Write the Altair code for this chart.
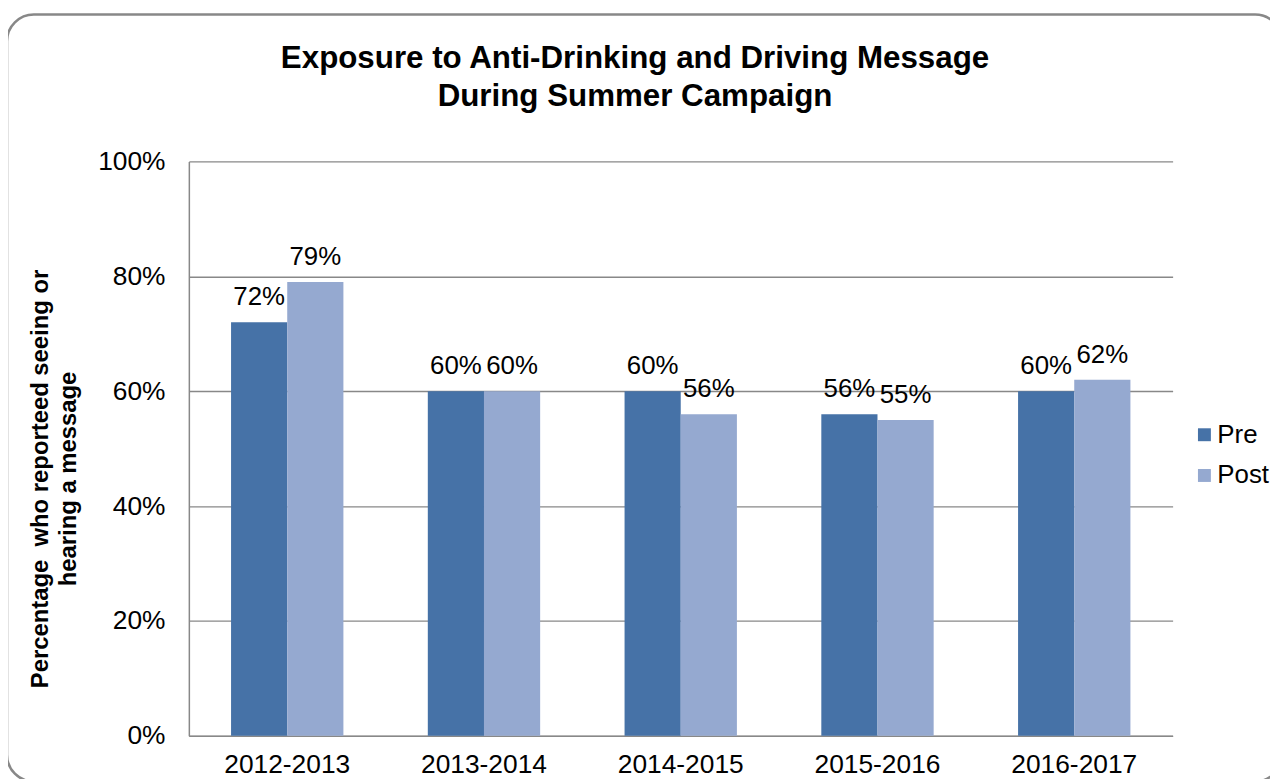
import altair as alt
import pandas as pd

years = ["2012-2013", "2013-2014", "2014-2015", "2015-2016", "2016-2017"]
pre_values = [72, 60, 60, 56, 60]
post_values = [79, 60, 56, 55, 62]
series = ["Pre", "Post"]
colors = ["#4672A7", "#95A9D0"]
y_ticks = [0, 0.2, 0.4, 0.6, 0.8, 1.0]
title_lines = ["Exposure to Anti-Drinking and Driving Message", "During Summer Campaign"]
y_title = ["Percentage \u00a0who reporteed seeing or", "hearing a message"]

rows = []
for i, yr in enumerate(years):
    rows.append({"year": yr, "series": "Pre", "value": pre_values[i] / 100})
    rows.append({"year": yr, "series": "Post", "value": post_values[i] / 100})
df = pd.DataFrame(rows)

FONT = "Liberation Sans"

x_enc = alt.X(
    "year:N",
    sort=years,
    scale=alt.Scale(paddingInner=0.429, paddingOuter=0.2145),
    axis=alt.Axis(
        title=None, labelAngle=0, labelFontSize=26.5, labelPadding=16,
        ticks=False, tickSize=0, domainColor="#888888", domainWidth=1.5,
        grid=False, labelColor="#000000", labelFont=FONT,
    ),
)
xoff_enc = alt.XOffset("series:N", sort=series, scale=alt.Scale(paddingInner=0, paddingOuter=0))

y_enc = alt.Y(
    "value:Q",
    scale=alt.Scale(domain=[0, 1]),
    axis=alt.Axis(
        values=y_ticks, format="%", title=y_title,
        titleFontSize=24, titleFontWeight="bold", titleFont=FONT, titleColor="#000000",
        titleAngle=270, titleX=-149, titleY=319, titleAlign="center", titleBaseline="middle",
        titleLineHeight=28,
        labelFontSize=26.5, labelFont=FONT, labelColor="#000000", labelPadding=24,
        ticks=False, tickSize=0, domainColor="#888888", domainWidth=1.5,
        grid=True, gridColor="#888888", gridWidth=1.3,
    ),
)

base = alt.Chart(df).encode(x=x_enc, xOffset=xoff_enc)

bars = base.mark_bar().encode(
    y=y_enc,
    color=alt.Color(
        "series:N", sort=series,
        scale=alt.Scale(domain=series, range=colors),
        legend=alt.Legend(
            title=None, orient="none", legendX=1009, legendY=262,
            labelFontSize=26, labelFont=FONT, labelColor="#000000",
            symbolType="square", symbolSize=169, symbolStrokeWidth=0,
            rowPadding=15, labelOffset=0, padding=0, direction="vertical",
        ),
    ),
)

labels = base.mark_text(baseline="alphabetic", dy=-17, fontSize=26, font=FONT, color="#000000").encode(
    y=alt.Y("value:Q"),
    text=alt.Text("value:Q", format=".0%"),
)

border = alt.Chart(alt.Data(values=[{"b": 1}])).mark_rect(
    fill=None, stroke="#888888", strokeWidth=2.5, cornerRadius=27
).encode(
    x=alt.value(-183), x2=alt.value(1100), y=alt.value(-148), y2=alt.value(624)
)

chart = alt.layer(border, bars, labels).properties(
    width=990,
    height=578,
    title=alt.TitleParams(
        text=title_lines, fontSize=31.5, fontWeight="bold", font=FONT, color="#000000",
        anchor="middle", dx=-46, offset=0, dy=125, baseline="alphabetic", lineHeight=38,
    ),
    padding={"left": 182, "top": 152, "right": 98, "bottom": 41},
    autosize=alt.AutoSizeParams(type="none"),
).configure_view(stroke=None)

chart.save("out.html", embed_options={"renderer": "svg", "actions": False})
